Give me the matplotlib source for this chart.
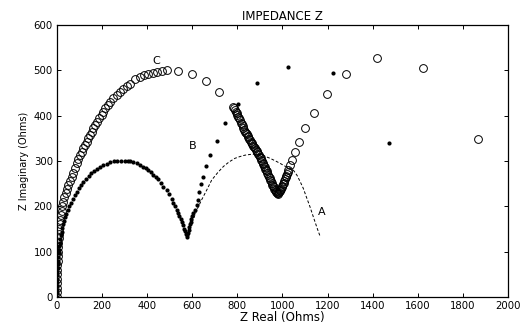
import matplotlib
matplotlib.use("Agg")
import matplotlib.pyplot as plt

plt.rcParams["font.family"] = ["DejaVu Sans"]

# curve A (dashed line)
a_re = [590, 605, 620, 641, 664, 686, 712, 738, 763, 789, 812, 834, 863, 890,
        915, 945, 970, 989, 1010, 1030, 1048, 1065, 1078, 1092, 1105, 1122,
        1140, 1155, 1166]
a_im = [155, 172, 192, 214, 236, 258, 274, 288, 298, 306, 310, 313, 315, 315,
        312, 306, 300, 295, 289, 285, 280, 268, 255, 240, 222, 199,
        172, 150, 135]

# curve B (filled dots)
b_re = [0, 0, 0, 1, 1, 1, 2, 2, 3, 4, 5, 6, 7, 9, 11, 13, 15, 18, 21, 24, 28,
        32, 37, 42, 48, 55, 62, 70, 78, 87, 96, 106, 117, 128, 140, 152, 165,
        178, 192, 206, 221, 236, 252, 268, 284, 300, 316, 324, 338, 353, 368,
        383, 394, 405, 416, 427, 438, 449, 460, 471, 486, 498, 508, 516, 523,
        530, 538, 543, 548, 553, 558, 563, 567, 571, 575, 578, 581, 584, 587,
        590, 593, 596, 600, 605, 612, 619, 624, 631, 639, 649, 661, 678, 708,
        745, 804, 886, 1026, 1226, 1474]
b_im = [0, 8, 16, 24, 32, 40, 48, 56, 64, 72, 80, 88, 96, 104, 112, 120, 128,
        136, 144, 152, 160, 168, 176, 184, 192, 200, 208, 216, 224, 232, 240,
        247, 254, 261, 267, 273, 278, 283, 287, 291, 294, 297, 299, 300, 301,
        301, 301, 301, 298, 295, 291, 287, 284, 280, 275, 269, 265, 260, 252,
        243, 235, 227, 217, 207, 200, 193, 186, 179, 172, 165, 158, 151, 145,
        139, 133, 136, 142, 148, 154, 160, 166, 172, 178, 185, 193, 203, 215,
        232, 249, 265, 288, 314, 344, 383, 425, 473, 508, 494, 340]

# curve C (open circles)
c_re = [0, 0, 0, 1, 1, 1, 2, 2, 3, 3, 4, 5, 6, 7, 8, 10, 12, 14, 17, 20, 24,
        28, 33, 38, 43, 50, 58, 65, 72, 80, 87, 95, 102, 110, 117, 125, 132,
        139, 146, 154, 161, 169, 176, 187, 198, 205, 213, 224, 235, 250, 265,
        280, 294, 309, 324, 346, 368, 386, 405, 424, 442, 464, 486, 538, 597,
        659, 718,
        782, 785, 789, 793, 797, 800, 804, 808, 812, 816, 820, 823, 827, 830,
        834, 838, 841, 845, 848, 852, 856, 860, 863, 867, 871, 874, 878, 881,
        885, 889, 892, 896, 900, 903, 906, 909, 912, 915, 918, 921, 924, 927,
        930, 933, 937, 940, 943, 946, 949, 952, 955, 958, 961, 964, 967, 970,
        972, 975, 978, 981, 984, 987, 990, 993, 996, 999, 1002, 1005, 1008,
        1011, 1014, 1017, 1020, 1023, 1026, 1033, 1042, 1056, 1075, 1102,
        1139, 1196, 1282, 1418, 1621, 1865]
c_im = [0, 10, 20, 30, 40, 50, 60, 70, 80, 90, 100, 110, 120, 130, 140, 150,
        160, 170, 180, 190, 200, 210, 220, 229, 238, 247, 256, 265, 273, 284,
        295, 304, 313, 321, 328, 336, 343, 350, 357, 365, 372, 380, 387, 394,
        401, 409, 416, 424, 431, 439, 446, 453, 460, 466, 471, 480, 485, 489,
        492, 495, 497, 499, 500, 498, 492, 476, 453,
        420, 417, 413, 409, 405, 402, 398, 394, 390, 385, 381, 377, 373, 369,
        365, 362, 359, 355, 352, 349, 346, 343, 340, 337, 334, 331, 328, 325,
        322, 319, 316, 313, 310, 306, 303, 299, 296, 293, 290, 286, 283, 280,
        277, 273, 269, 265, 262, 258, 255, 251, 248, 245, 242, 239, 236, 233,
        231, 229, 228, 229, 231, 233, 236, 239, 242, 245, 249, 252, 256,
        260, 264, 268, 272, 276, 281, 291, 303, 320, 343, 373,
        405, 449, 492, 527, 506, 348]

labels = ["A", "B", "C"]
label_pos = [(1174, 188), (602, 334), (442, 520)]

fig = plt.figure(figsize=(5.21, 3.26), dpi=100)
ax = fig.add_axes([0.1094, 0.089, 0.8656, 0.834])

ax.plot(a_re, a_im, color="black", linewidth=0.7, linestyle=(0, (3, 2)))
ax.plot(b_re, b_im, linestyle="none", marker="o", markersize=3,
        color="black", markeredgewidth=0)
ax.plot(c_re, c_im, linestyle="none", marker="o", markersize=5.6,
        markerfacecolor="none", markeredgecolor="black", markeredgewidth=0.7)

for txt, (x, y) in zip(labels, label_pos):
    ax.text(x, y, txt, ha="center", va="center", fontsize=8)

ax.set_xlim(0, 2000)
ax.set_ylim(0, 600)
ax.set_xticks(range(0, 2001, 200))
ax.set_yticks(range(0, 601, 100))
ax.tick_params(direction="in", length=3, width=0.7, labelsize=7.3, pad=3,
               top=True, right=True)
for sp in ax.spines.values():
    sp.set_linewidth(0.9)

ax.set_title("IMPEDANCE Z", fontsize=8.5, pad=4)
ax.set_xlabel("Z Real (Ohms)", fontsize=8.5, labelpad=0)
ax.set_ylabel("Z Imaginary (Ohms)", fontsize=7, labelpad=3)

fig.savefig("out.png", dpi=100)
